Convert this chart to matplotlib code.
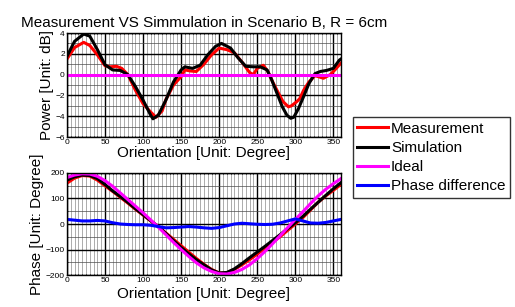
import matplotlib
matplotlib.use('Agg')
import matplotlib.pyplot as plt
from matplotlib.ticker import MultipleLocator

plt.rcParams['font.family'] = ['Liberation Sans', 'DejaVu Sans']

# power panel (dB), sampled on uneven orientations
pw_meas_x = [0, 10, 22, 30, 40, 50, 57, 65, 72, 80, 90, 100, 110, 117, 125, 130, 140, 150, 155, 162,
             170, 180, 190, 200, 210, 220, 230, 240, 245, 250, 258, 264, 271, 278, 284, 291, 295,
             302, 306, 311, 318, 326, 337, 346, 352, 360]
pw_meas = [1.5, 2.6, 3.1, 2.8, 1.9, 0.85, 0.75, 0.8, 0.6, 0.0, -1.5, -2.8, -3.6, -4.1, -3.5, -2.4,
           -1.0, -0.2, 0.45, 0.35, 0.3, 1.0, 1.9, 2.55, 2.4, 2.1, 1.2, 0.2, 0.0, 0.6, 0.9, 0.3,
           -0.8, -1.8, -2.6, -3.1, -3.0, -2.6, -2.3, -1.5, -0.7, -0.1, -0.35, 0.0, 0.45, 1.1]

pw_sim_x = [0, 10, 22, 30, 40, 50, 60, 70, 80, 90, 100, 110, 113, 120, 130, 140, 150, 155, 165, 175,
            185, 195, 203, 215, 225, 235, 245, 254, 263, 269, 276, 283, 289, 294, 298, 304, 311,
            318, 326, 333, 341, 350, 358, 360]
pw_sim = [1.75, 3.2, 3.9, 3.7, 2.4, 0.95, 0.45, 0.4, 0.0, -1.15, -2.45, -3.9, -4.25, -3.9, -2.45,
          -0.7, 0.45, 0.75, 0.6, 0.9, 1.9, 2.7, 3.0, 2.55, 1.6, 0.8, 0.75, 0.75, 0.45, -0.5, -1.8,
          -3.1, -3.9, -4.2, -4.1, -3.3, -2.1, -0.85, 0.1, 0.3, 0.4, 0.6, 1.4, 1.5]

pw_ideal_x = [0, 360]
pw_ideal = [0, 0]

# phase panel (degree), every 10 degrees of orientation
ph_x = list(range(0, 361, 10))
ph_meas = [160, 180, 190, 188, 172, 150, 128, 105, 82, 58, 35, 12, -10, -35, -60, -85, -110, -135,
           -158, -178, -192, -192, -178, -160, -140, -118, -95, -72, -50, -25, 0, 25, 55, 85, 110,
           132, 155]
ph_sim = [172, 185, 192, 190, 178, 155, 130, 108, 85, 60, 37, 13, -10, -37, -65, -92, -117, -140,
          -160, -180, -192, -190, -176, -155, -132, -110, -88, -65, -42, -18, 5, 30, 58, 85, 112,
          138, 162]
ph_ideal = [182, 192, 197, 196, 187, 170, 148, 122, 96, 70, 44, 16, -12, -42, -72, -100, -127,
            -152, -172, -186, -195, -196, -190, -178, -160, -136, -108, -78, -46, -14, 18, 48, 80,
            110, 136, 158, 178]
ph_diff = [18, 15, 12, 12, 14, 12, 5, 0, -2, -3, -3, -5, -10, -15, -14, -12, -10, -12, -15, -17,
           -14, -7, 0, 3, 1, -1, -2, -1, 4, 12, 20, 12, 4, 3, 6, 12, 18]

fig = plt.figure(figsize=(5.15, 3.07), dpi=100)
ax1 = fig.add_axes([0.130, 0.5537, 0.532, 0.3388])
ax2 = fig.add_axes([0.130, 0.1042, 0.532, 0.3323])


def style_axis(ax, ymin, ymax, ymaj, ymin_step, xpad):
    ax.set_xlim(0, 360)
    ax.set_ylim(ymin, ymax)
    ax.xaxis.set_major_locator(MultipleLocator(50))
    ax.xaxis.set_minor_locator(MultipleLocator(5))
    ax.yaxis.set_major_locator(MultipleLocator(ymaj))
    ax.yaxis.set_minor_locator(MultipleLocator(ymin_step))
    ax.grid(True, which='major', color='black', lw=1.0)
    ax.grid(True, which='minor', axis='x', color='0.55', lw=0.5)
    ax.grid(True, which='minor', axis='y', color='0.3', lw=0.5)
    ax.tick_params(which='both', direction='in', top=True, right=True, labelsize=6, pad=1.5,
                   length=2, width=0.6)
    ax.tick_params(which='minor', length=1)
    for s in ax.spines.values():
        s.set_linewidth(1.0)
    ax.set_axisbelow(True)
    ax.set_xlabel('Orientation [Unit: Degree]', fontsize=11, labelpad=xpad)


ax1.plot(pw_meas_x, pw_meas, color='red', lw=2.2, label='Measurement')
ax1.plot(pw_sim_x, pw_sim, color='black', lw=2.2, label='Simulation')
ax1.plot(pw_ideal_x, pw_ideal, color='magenta', lw=2.2, label='Ideal')
style_axis(ax1, -6, 4, 2, 1, 0)
ax1.set_ylabel('Power [Unit: dB]', fontsize=11, labelpad=1)
ax1.set_title('Measurement VS Simmulation in Scenario B, R = 6cm', fontsize=11, pad=4)

ax2.plot(ph_x, ph_meas, color='red', lw=2.2)
ax2.plot(ph_x, ph_sim, color='black', lw=2.2)
ax2.plot(ph_x, ph_ideal, color='magenta', lw=2.2)
ax2.plot(ph_x, ph_diff, color='blue', lw=2.2, label='Phase difference')
style_axis(ax2, -200, 200, 100, 50, 2)
ax2.set_ylabel('Phase [Unit: Degree]', fontsize=11, labelpad=1)

handles = ax1.get_lines() + [ax2.get_lines()[-1]]
labels = ['Measurement', 'Simulation', 'Ideal', 'Phase difference']
leg = fig.legend(handles, labels, loc='upper left', bbox_to_anchor=(0.670, 0.643),
                 fontsize=11, frameon=True, fancybox=False, edgecolor='black',
                 handlelength=2.0, handletextpad=0.2, labelspacing=0.33, borderpad=0.3)
leg.get_frame().set_linewidth(1.0)

fig.savefig('out.png', dpi=100)
